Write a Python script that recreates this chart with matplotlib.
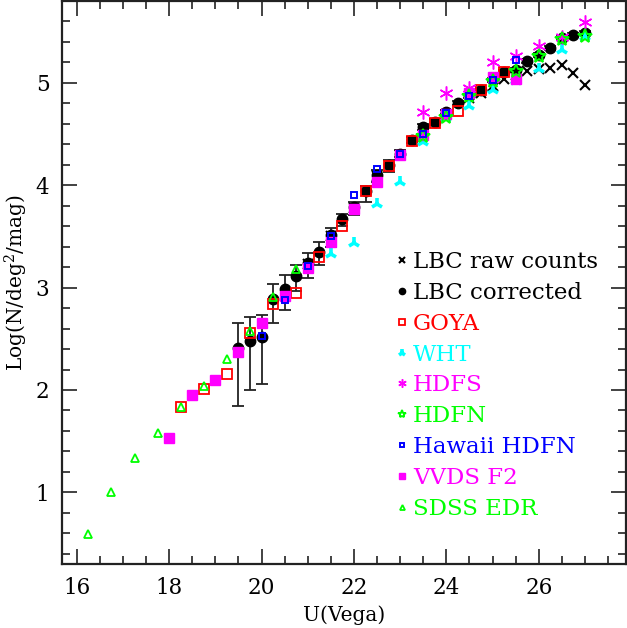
import matplotlib
matplotlib.use("Agg")
import matplotlib.pyplot as plt
from matplotlib.ticker import MultipleLocator

plt.rcParams['font.family'] = ['DejaVu Serif']
plt.rcParams['mathtext.fontset'] = 'dejavuserif'

# ---------------- data ----------------
# LBC corrected counts (with asymmetric error bars)
lbc_mag = [19.5, 19.75, 20.0, 20.25, 20.5, 20.75, 21.0, 21.25, 21.5, 21.75, 22.0, 22.25,
           22.5, 22.75, 23.0, 23.25, 23.5, 23.75, 24.0, 24.25, 24.5, 24.75, 25.0, 25.25,
           25.5, 25.75, 26.0, 26.25, 26.5, 26.75, 27.0]
lbc_corr = [2.41, 2.48, 2.52, 2.89, 2.99, 3.11, 3.24, 3.35, 3.51, 3.67, 3.79, 3.94,
            4.10, 4.20, 4.31, 4.44, 4.57, 4.62, 4.72, 4.80, 4.87, 4.93, 5.03, 5.11,
            5.13, 5.21, 5.27, 5.34, 5.44, 5.47, 5.49]
lbc_err_hi = [0.24, 0.23, 0.21, 0.15, 0.13, 0.11, 0.10, 0.10, 0.07, 0.05, 0.05, 0.05,
              0.05, 0.05, 0.03, 0.03, 0.03, 0.03, 0.02, 0.02, 0.02, 0.02, 0.02, 0.02,
              0.02, 0.02, 0.02, 0.02, 0.02, 0.02, 0.02]
lbc_err_lo = [0.57, 0.48, 0.46, 0.24, 0.21, 0.14, 0.15, 0.13, 0.11, 0.07, 0.08, 0.10,
              0.07, 0.07, 0.03, 0.03, 0.03, 0.03, 0.02, 0.02, 0.02, 0.02, 0.02, 0.02,
              0.02, 0.02, 0.02, 0.02, 0.02, 0.02, 0.02]
# LBC raw counts
raw_mag = [21.0, 21.5, 22.0, 22.5, 23.0, 23.5, 24.0, 24.5, 24.75, 25.0, 25.25, 25.5,
           25.75, 26.0, 26.25, 26.5, 26.75, 27.0]
raw_cnt = [3.23, 3.50, 3.78, 4.09, 4.30, 4.55, 4.70, 4.85, 4.90, 4.97, 5.04, 5.08,
           5.12, 5.14, 5.15, 5.17, 5.10, 4.98]
# GOYA
goya_mag = [18.25, 18.75, 19.25, 19.75, 20.25, 20.75, 21.25, 21.75, 22.25, 22.75,
            23.25, 23.75, 24.25, 24.75, 25.25]
goya_cnt = [1.83, 2.01, 2.16, 2.56, 2.84, 2.95, 3.30, 3.60, 3.94, 4.19,
            4.43, 4.61, 4.73, 4.93, 5.11]
# WHT
wht_mag = [21.5, 22.0, 22.5, 23.0, 23.5, 24.0, 24.5, 25.0, 25.5, 26.0, 26.5, 27.0]
wht_cnt = [3.33, 3.44, 3.82, 4.03, 4.42, 4.66, 4.77, 4.93, 5.02, 5.14, 5.32, 5.45]
# HDFS
hdfs_mag = [23.5, 24.0, 24.5, 25.0, 25.5, 26.0, 26.5, 27.0]
hdfs_cnt = [4.72, 4.90, 4.95, 5.20, 5.26, 5.36, 5.45, 5.59]
# HDFN
hdfn_mag = [23.5, 24.0, 24.5, 25.0, 25.5, 26.0, 26.5, 27.0]
hdfn_cnt = [4.48, 4.67, 4.87, 5.02, 5.12, 5.26, 5.43, 5.46]
# Hawaii HDFN
haw_mag = [20.0, 20.5, 21.0, 21.5, 22.0, 22.5, 23.0, 23.5, 24.0, 24.5, 25.0, 25.5]
haw_cnt = [2.53, 2.88, 3.21, 3.50, 3.90, 4.16, 4.31, 4.50, 4.71, 4.87, 5.03, 5.22]
# VVDS F2
vvds_mag = [18.0, 18.5, 19.0, 19.5, 20.0, 20.5, 21.0, 21.5, 22.0, 22.5, 23.0, 23.5,
            24.0, 24.5, 25.0, 25.5]
vvds_cnt = [1.53, 1.95, 2.10, 2.37, 2.65, 2.92, 3.19, 3.45, 3.77, 4.03, 4.30, 4.49,
            4.70, 4.90, 5.06, 5.04]
# SDSS EDR
sdss_mag = [16.25, 16.75, 17.25, 17.75, 18.25, 18.75, 19.25, 19.75, 20.25, 20.75]
sdss_cnt = [0.59, 1.00, 1.34, 1.58, 1.83, 2.04, 2.30, 2.58, 2.91, 3.18]

labels = ["LBC raw counts", "LBC corrected", "GOYA", "WHT", "HDFS", "HDFN",
          "Hawaii HDFN", "VVDS F2", "SDSS EDR"]
colors = ["black", "black", "#ff0000", "#00ffff", "#ff00ff", "#00ff00",
          "#0000ff", "#ff00ff", "#00ff00"]

# ---------------- figure ----------------
fig = plt.figure(figsize=(6.27, 6.28), dpi=100)
ax = fig.add_axes([62 / 627, (628 - 564) / 628, (625.6 - 62) / 627, (564 - 1) / 628])

handles = []
h, = ax.plot(raw_mag, raw_cnt, ls='none', marker='x', ms=6.5, mew=1.5,
             color=colors[0], zorder=3)
handles.append(h)
ax.errorbar(lbc_mag, lbc_corr, yerr=[lbc_err_lo, lbc_err_hi], fmt='none',
            ecolor='#222222', elinewidth=1.3, capsize=4.5, capthick=1.3, zorder=2)
h, = ax.plot(lbc_mag, lbc_corr, ls='none', marker='o', ms=7.5, color=colors[1],
             zorder=4)
handles.append(h)
h, = ax.plot(goya_mag, goya_cnt, ls='none', marker='s', ms=7, mfc='none', mew=1.3,
             mec=colors[2], zorder=5)
handles.append(h)
h, = ax.plot(wht_mag, wht_cnt, ls='none', marker='2', ms=8.5, mew=2.6,
             color=colors[3], zorder=5)
handles.append(h)
h, = ax.plot(hdfs_mag, hdfs_cnt, ls='none', marker=(6, 2, 0), ms=10, mew=1.1,
             color=colors[4], zorder=5)
handles.append(h)
h, = ax.plot(hdfn_mag, hdfn_cnt, ls='none', marker='*', ms=10, mfc='none', mew=1.4,
             mec=colors[5], zorder=6)
handles.append(h)
h, = ax.plot(haw_mag, haw_cnt, ls='none', marker='s', ms=5, mfc='none', mew=1.4,
             mec=colors[6], zorder=6)
handles.append(h)
h, = ax.plot(vvds_mag, vvds_cnt, ls='none', marker='s', ms=6.5, color=colors[7],
             zorder=5)
handles.append(h)
h, = ax.plot(sdss_mag, sdss_cnt, ls='none', marker='^', ms=6, mfc='none', mew=1.3,
             mec=colors[8], zorder=7)
handles.append(h)

ax.set_xlim(15.68, 27.88)
ax.set_ylim(0.30, 5.80)

ax.xaxis.set_major_locator(MultipleLocator(2))
ax.xaxis.set_minor_locator(MultipleLocator(0.5))
ax.yaxis.set_major_locator(MultipleLocator(1))
ax.yaxis.set_minor_locator(MultipleLocator(0.2))
ax.tick_params(which='both', direction='in', top=True, right=True, color='#222222',
               labelsize=15.5, width=1.2)
ax.tick_params(which='major', length=11, pad=9)
ax.tick_params(which='minor', length=5.5)
for s in ax.spines.values():
    s.set_linewidth(1.6)
    s.set_color('#222222')

ax.set_xlabel("U(Vega)", fontsize=14.5, labelpad=5)
ax.set_ylabel("Log(N/deg$^2$/mag)", fontsize=14.5, labelpad=4)

leg = ax.legend(handles, labels, loc='upper left', bbox_to_anchor=(0.574, 0.572),
                frameon=False, fontsize=16.5, markerscale=0.6, handlelength=0.6,
                handletextpad=0.2, labelspacing=0.385, borderaxespad=0,
                labelcolor=colors)

fig.savefig("out.png", dpi=100)
